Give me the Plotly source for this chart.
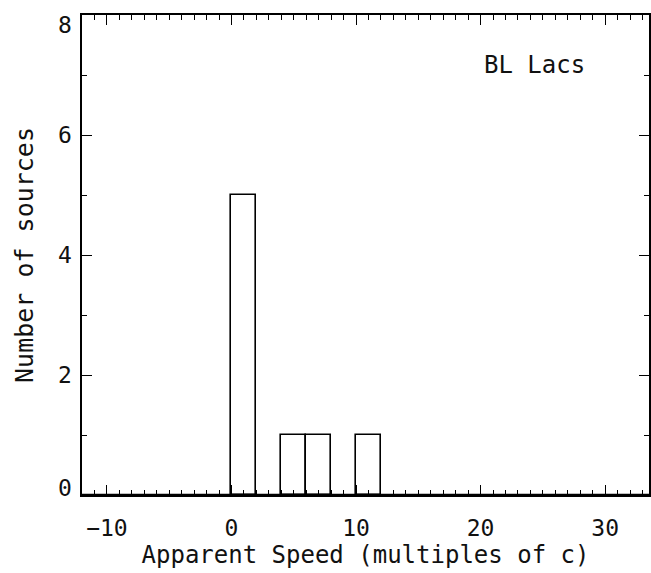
import plotly.graph_objects as go

# Histogram data (bin width 2)
bin_left_edges = [0, 4, 6, 10]
bin_width = 2
counts = [5, 1, 1, 1]

x_range = [-12, 33.52]
y_range = [0, 8]
y_tick_values = [0, 2, 4, 6, 8]
x_title = "Apparent Speed (multiples of c)"
y_title = "Number of sources"
label_text = "BL Lacs"

centers = [e + bin_width / 2 for e in bin_left_edges]

FONT = "DejaVu Sans Mono"

fig = go.Figure()
fig.add_trace(go.Bar(
    x=centers, y=counts, width=[bin_width] * len(centers),
    marker=dict(color="white", line=dict(color="black", width=1.6)),
    showlegend=False,
))
# histogram baseline along zero
fig.add_trace(go.Scatter(
    x=x_range, y=[0, 0], mode="lines",
    line=dict(color="black", width=2.5), showlegend=False, cliponaxis=False,
))

axis_common = dict(
    showgrid=False, zeroline=False, showline=True, linecolor="black",
    linewidth=1.5, mirror="ticks", ticks="inside", tickcolor="black",
    tickwidth=1.2,
    tickfont=dict(family=FONT, size=23, color="#111"),
)

fig.update_xaxes(
    range=x_range, dtick=10, tick0=0, ticklen=10,
    minor=dict(dtick=1, ticklen=5, ticks="inside", tickcolor="black", tickwidth=1.2),
    ticklabelstandoff=12,
    title=dict(text=x_title, font=dict(family=FONT, size=24, color="#111"), standoff=4),
    **axis_common,
)
fig.update_yaxes(
    range=y_range, tickvals=y_tick_values, ticklen=10, showticklabels=False,
    minor=dict(dtick=1, ticklen=5, ticks="inside", tickcolor="black", tickwidth=1.2),
    title=dict(text=y_title, font=dict(family=FONT, size=25, color="#111"), standoff=40),
    **axis_common,
)

# y tick labels (end labels nudged inward, as in the original)
for v in y_tick_values:
    shift = 7 if v == y_range[0] else (-10 if v == y_range[1] else 0)
    fig.add_annotation(
        x=0, y=v, xref="paper", yref="y", text=str(v), showarrow=False,
        xanchor="right", yanchor="middle", xshift=-8, yshift=shift,
        font=dict(family=FONT, size=23, color="#111"),
    )

fig.add_annotation(
    x=0.705, y=0.895, xref="paper", yref="paper", text=label_text,
    showarrow=False, xanchor="left", yanchor="middle",
    font=dict(family=FONT, size=24, color="#111"),
)

fig.update_layout(
    width=651, height=573,
    margin=dict(l=82, r=0, t=15, b=78),
    plot_bgcolor="white", paper_bgcolor="white",
    bargap=0,
)

fig.write_html("out.html")
